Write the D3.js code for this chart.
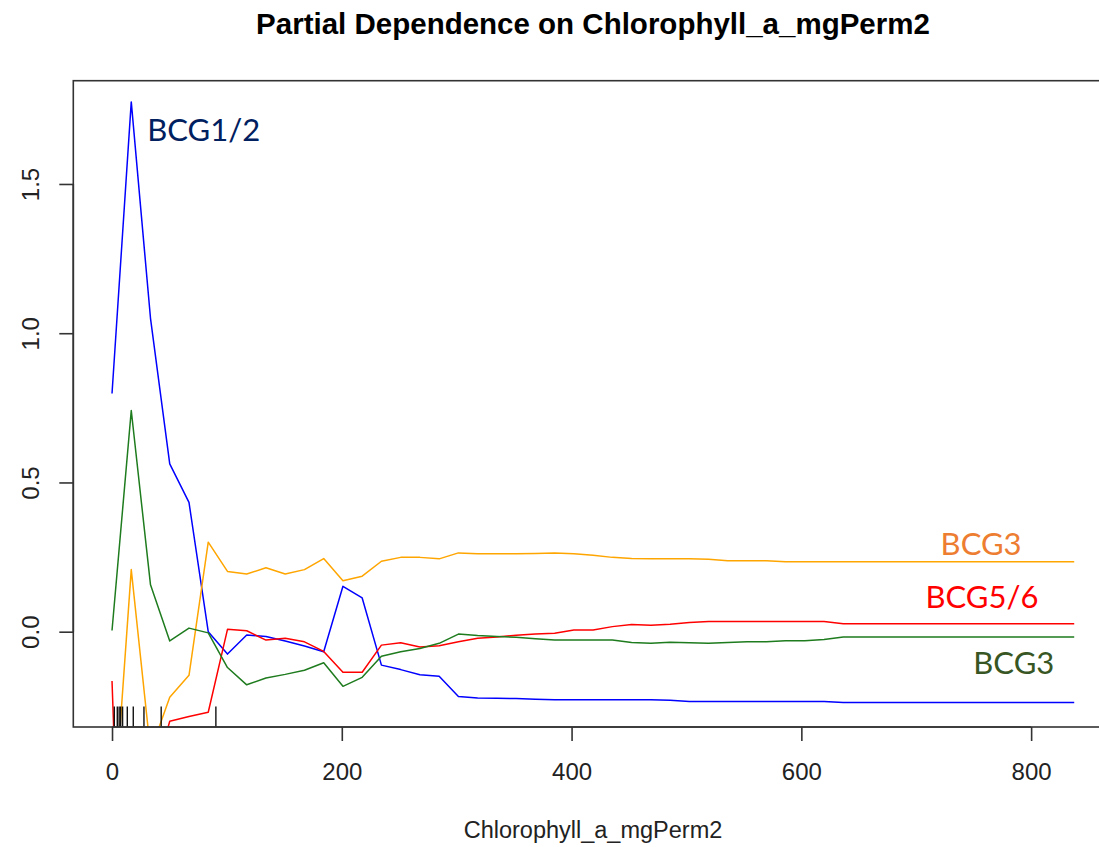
<!DOCTYPE html>
<html>
<head>
<meta charset="utf-8">
<title>Partial Dependence on Chlorophyll_a_mgPerm2</title>
<script src="https://cdn.jsdelivr.net/npm/d3@7"></script>
<style>
  body { margin: 0; background: #fff; }
  svg { display: block; background: #fff; }
</style>
</head>
<body>
<svg width="1099" height="847"></svg>
<script>
// grid of chlorophyll values used for the partial dependence (51 points)
const chlorophyll = [
  0, 16.75, 33.5, 50.25, 67, 83.75, 100.5, 117.25, 134, 150.75,
  167.5, 184.25, 201, 217.75, 234.5, 251.25, 268, 284.75, 301.5, 318.25,
  335, 351.75, 368.5, 385.25, 402, 418.75, 435.5, 452.25, 469, 485.75,
  502.5, 519.25, 536, 552.75, 569.5, 586.25, 603, 619.75, 636.5, 653.25,
  670, 686.75, 703.5, 720.25, 737, 753.75, 770.5, 787.25, 804, 820.75,
  837.5
];

const bcg12 = [
  0.798, 1.775, 1.05, 0.562, 0.433, 0.0, -0.075, -0.011, -0.016, -0.031,
  -0.048, -0.067, 0.152, 0.113, -0.112, -0.127, -0.144, -0.149, -0.217, -0.222,
  -0.223, -0.224, -0.226, -0.228, -0.228, -0.228, -0.228, -0.228, -0.228, -0.23,
  -0.234, -0.234, -0.234, -0.234, -0.234, -0.234, -0.234, -0.234, -0.237, -0.237,
  -0.237, -0.237, -0.237, -0.237, -0.237, -0.237, -0.237, -0.237, -0.237, -0.237,
  -0.237
];

const bcg3Orange = [
  -0.7, 0.208, -0.4, -0.22, -0.146, 0.3, 0.202, 0.193, 0.214, 0.193,
  0.208, 0.245, 0.171, 0.186, 0.236, 0.249, 0.249, 0.244, 0.264, 0.261,
  0.261, 0.261, 0.262, 0.264, 0.261, 0.256, 0.249, 0.245, 0.244, 0.244,
  0.244, 0.243, 0.238, 0.238, 0.238, 0.234, 0.234, 0.234, 0.234, 0.234,
  0.234, 0.234, 0.234, 0.234, 0.234, 0.234, 0.234, 0.234, 0.234, 0.234,
  0.234
];

const bcg56 = [
  -0.165, -2.0, -0.53, -0.3, -0.284, -0.27, 0.008, 0.003, -0.028, -0.022,
  -0.034, -0.066, -0.136, -0.136, -0.045, -0.037, -0.051, -0.047, -0.034, -0.022,
  -0.018, -0.012, -0.008, -0.005, 0.006, 0.006, 0.017, 0.024, 0.022, 0.025,
  0.031, 0.034, 0.034, 0.034, 0.034, 0.034, 0.034, 0.034, 0.027, 0.027,
  0.027, 0.027, 0.027, 0.027, 0.027, 0.027, 0.027, 0.027, 0.027, 0.027,
  0.027
];

const bcg3Green = [
  0.004, 0.741, 0.157, -0.031, 0.012, -0.004, -0.12, -0.178, -0.155, -0.143,
  -0.129, -0.104, -0.183, -0.153, -0.082, -0.067, -0.056, -0.039, -0.008, -0.013,
  -0.016, -0.019, -0.024, -0.028, -0.028, -0.028, -0.028, -0.036, -0.039, -0.035,
  -0.037, -0.039, -0.036, -0.034, -0.034, -0.03, -0.03, -0.026, -0.018, -0.018,
  -0.018, -0.018, -0.018, -0.018, -0.018, -0.018, -0.018, -0.018, -0.018, -0.018,
  -0.018
];

// rug marks along the x axis
const rugValues = [2, 4.6, 6.2, 7.5, 9.2, 13.3, 18.5, 27.8, 42.8, 90.4];

const xTicks = [0, 200, 400, 600, 800];
const yTicks = [0, 0.5, 1, 1.5];

const labelNames = ["BCG1/2", "BCG3", "BCG5/6", "BCG3"];
const labelX = [30.7, 721.2, 708.1, 749.7];
const labelY = [1.644, 0.257, 0.079, -0.142];

main();

function main() {
  const canvas = d3.select("svg");

  const plotLeft = 73.3;
  const plotRight = 1112.7;
  const plotTop = 80.7;
  const plotBottom = 727;

  const xScale = d3.scaleLinear().domain([-33.7, 871]).range([plotLeft, plotRight]);
  const yScale = d3.scaleLinear().domain([-0.3193, 1.846]).range([plotBottom, plotTop]);

  const series = [
    { values: bcg12, color: "#0000ff" },
    { values: bcg3Orange, color: "#ffa500" },
    { values: bcg56, color: "#ff0000" },
    { values: bcg3Green, color: "#1e7b1e" }
  ];

  canvas
    .append("clipPath")
    .attr("id", "plot-clip")
    .append("rect")
    .attr("x", plotLeft)
    .attr("y", plotTop)
    .attr("width", plotRight - plotLeft)
    .attr("height", plotBottom - plotTop);

  // title
  canvas
    .append("text")
    .text("Partial Dependence on Chlorophyll_a_mgPerm2")
    .attr("x", (plotLeft + plotRight) / 2)
    .attr("y", 34)
    .attr("text-anchor", "middle")
    .attr("font-family", "Liberation Sans, Arial, sans-serif")
    .attr("font-weight", "bold")
    .attr("font-size", 29.5)
    .attr("fill", "#000");

  const line = d3
    .line()
    .x((d, i) => xScale(chlorophyll[i]))
    .y((d) => yScale(d));

  const lines = canvas.append("g").attr("clip-path", "url(#plot-clip)");
  series.forEach((s) => {
    lines
      .append("path")
      .attr("d", line(s.values))
      .attr("fill", "none")
      .attr("stroke", s.color)
      .attr("stroke-width", 1.5)
      .attr("stroke-linejoin", "round");
  });

  // rug
  canvas
    .append("g")
    .selectAll("line")
    .data(rugValues)
    .join("line")
    .attr("x1", (d) => xScale(d))
    .attr("x2", (d) => xScale(d))
    .attr("y1", plotBottom)
    .attr("y2", plotBottom - 20.5)
    .attr("stroke", "#111")
    .attr("stroke-width", 1.4);

  // box
  canvas
    .append("rect")
    .attr("x", plotLeft)
    .attr("y", plotTop)
    .attr("width", plotRight - plotLeft)
    .attr("height", plotBottom - plotTop)
    .attr("fill", "none")
    .attr("stroke", "#333")
    .attr("stroke-width", 1.6);

  const xAxis = d3.axisBottom(xScale).tickValues(xTicks).tickSize(14).tickPadding(20).tickFormat(d3.format("d"));
  const yAxis = d3.axisLeft(yScale).tickValues(yTicks).tickSize(14).tickFormat(d3.format(".1f"));

  const gx = canvas
    .append("g")
    .attr("transform", `translate(0, ${plotBottom})`)
    .call(xAxis);
  gx.select(".domain").attr("d", `M${xScale(0)},0H${xScale(800)}`);

  const gy = canvas
    .append("g")
    .attr("transform", `translate(${plotLeft}, 0)`)
    .call(yAxis);
  gy.select(".domain").attr("d", `M0,${yScale(0)}V${yScale(1.5)}`);

  [gx, gy].forEach((g) => {
    g.selectAll(".domain, .tick line").attr("stroke", "#333").attr("stroke-width", 1.6);
    g.selectAll(".tick text")
      .attr("font-family", "Liberation Sans, Arial, sans-serif")
      .attr("font-size", 24)
      .attr("fill", "#222");
  });

  gx.selectAll(".tick text").attr("dy", null).attr("y", 53);

  gy.selectAll(".tick text")
    .attr("x", null)
    .attr("dy", null)
    .attr("text-anchor", "middle")
    .attr("transform", "translate(-34, 0) rotate(-90)");

  // x axis title
  canvas
    .append("text")
    .text("Chlorophyll_a_mgPerm2")
    .attr("x", (plotLeft + plotRight) / 2)
    .attr("y", 838)
    .attr("text-anchor", "middle")
    .attr("font-family", "Liberation Sans, Arial, sans-serif")
    .attr("font-size", 23.5)
    .attr("fill", "#222");

  // class labels added on the plot
  const labelColors = ["#002060", "#ed7d31", "#ff0000", "#375623"];
  canvas
    .append("g")
    .selectAll("text")
    .data(labelNames)
    .join("text")
    .text((d) => d)
    .attr("x", (d, i) => xScale(labelX[i]))
    .attr("y", (d, i) => yScale(labelY[i]))
    .attr("font-family", "Lato, Open Sans, sans-serif")
    .attr("font-size", 31)
    .attr("fill", (d, i) => labelColors[i]);
}
</script>
</body>
</html>
